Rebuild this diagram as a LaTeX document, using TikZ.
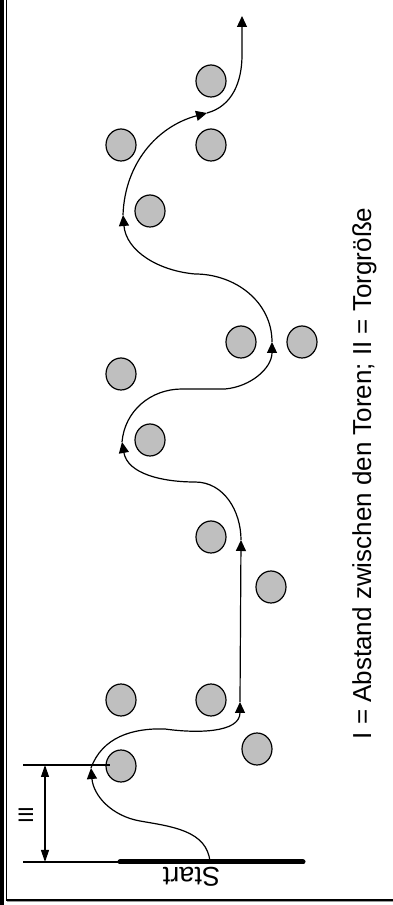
\documentclass[tikz,border=0pt]{standalone}
\usepackage{fontspec}
\setmainfont{Liberation Sans}
\usetikzlibrary{shapes.geometric}
\usetikzlibrary{arrows.meta}

\begin{document}
\begin{tikzpicture}
[x=1pt,y=1pt,line width=1.2pt,%
  gateDecorate/.style={shape=ellipse,minimum width=30pt,minimum height=32pt,inner sep=0pt,draw,fill=black!25},%
  lineDecorate/.style={-{Triangle[width=10pt,length=11pt]},line width=1.2pt},%
  dimDecorate/.style={{Triangle[width=8pt,length=12pt]}-{Triangle[width=8pt,length=12pt]},line width=1.2pt}]
\useasboundingbox (0,0) rectangle (393,905);
%% frame
\fill (0,0) rectangle (4,905);
\draw[line width=1.3pt] (6.5,905) -- (6.5,5) -- (393,5);
\draw[black!40,line width=1pt] (6.5,3.5) -- (393,3.5);
%% gates
\foreach \nodename/\x/\y in {
  g1/211/824, g2/121/760, g3/211/760, g4/150/694,
  g5/241/563, g6/302/563, g7/121/531, g8/150/465,
  g9/211/368, g10/271/318, g11/121/205, g12/211/205,
  g13/257/156, g14/121/139}
{
  \node[gateDecorate] (\nodename) at (\x,\y) {};
}
%% start line and labels
\coordinate (bl) at (120,43);
\coordinate (br) at (303,43);
\draw[line width=5pt,line cap=round] (bl) -- (br);
\node[rotate=180,anchor=base,inner sep=0pt,font=\fontsize{27}{30}\selectfont] (start) at (191.5,37) {Start};
\node[rotate=90,anchor=base west,inner sep=0pt,font=\fontsize{26}{30}\selectfont] (legend) at (371,165) {I = Abstand zwischen den Toren; II = Torgröße};
%% course
\coordinate (p0) at (210,43);
\coordinate (p1) at (91,137);
\coordinate (p2) at (240,203);
\coordinate (p3) at (241,365);
\coordinate (p4) at (122,463);
\coordinate (p5) at (272,563);
\coordinate (p6) at (123,690);
\coordinate (p7) at (207,792);
\coordinate (p8) at (242,889);
\draw[lineDecorate] (p0) to[out=95,in=-10] (140,84) to[out=170,in=-85] (p1);
\draw[lineDecorate] (p1) to[out=70,in=178] (165,176) to[out=-8,in=-90] (p2);
\draw[lineDecorate] (p2) -- (p3);
\draw[lineDecorate] (p3) to[out=90,in=0] (195,423) to[out=180,in=-80] (p4);
\draw[lineDecorate] (p4) to[out=85,in=180] (182,516) -- (225,516) to[out=5,in=-90] (p5);
\draw[lineDecorate] (p5) to[out=90,in=0] (195,631) to[out=175,in=-85] (p6);
\draw[lineDecorate] (p6) to[out=88,in=195] (p7);
\draw[lineDecorate] (p7) to[out=15,in=-90] (242,850) -- (p8);
%% dimension
\coordinate (dt) at (23,140);
\coordinate (dtr) at (110,140);
\coordinate (db) at (23,43);
\draw (dt) -- (dtr);
\draw (db) -- (bl);
\coordinate (at) at (45,140);
\coordinate (ab) at (45,43);
\draw[dimDecorate] (at) -- (ab);
\node[rotate=90,anchor=base,inner sep=0pt,font=\fontsize{21}{24}\selectfont] (dim) at (33,90) {III};
\end{tikzpicture}
\end{document}
